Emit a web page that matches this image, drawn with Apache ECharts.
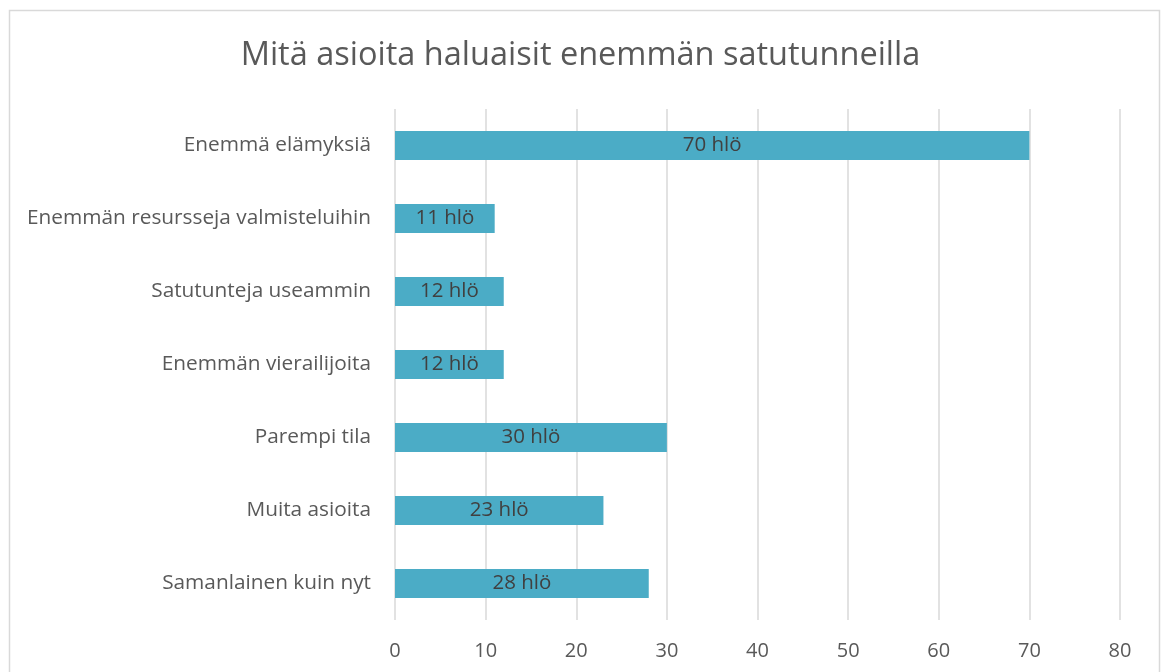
<!DOCTYPE html>
<html><head><meta charset="utf-8">
<script src="https://cdn.jsdelivr.net/npm/echarts@6/dist/echarts.min.js"></script>
<style>html,body{margin:0;padding:0;background:#fff}#c{width:1161px;height:672px}</style>
</head><body><div id="c"></div>
<script>
const categories = ["Enemmä elämyksiä","Enemmän resursseja valmisteluihin","Satutunteja useammin","Enemmän vierailijoita","Parempi tila","Muita asioita","Samanlainen kuin nyt"];
const values = [70, 11, 12, 12, 30, 23, 28];
const xTicks = [0,10,20,30,40,50,60,70,80];
const FONT = "'Open Sans', sans-serif";
const chart = echarts.init(document.getElementById('c'));
chart.setOption({
  animation:false,
  title:{text:"Mitä asioita haluaisit enemmän satutunneilla",left:'center',top:34,
    textStyle:{fontFamily:FONT,fontSize:32.5,fontWeight:'normal',color:'#595959'}},
  graphic:[{type:'rect',shape:{x:9.5,y:10.5,width:1150,height:700},style:{fill:'none',stroke:'#d9d9d9',lineWidth:1.5},silent:true}],
  grid:{left:395,right:41,top:109,bottom:52,containLabel:false},
  xAxis:{type:'value',min:xTicks[0],max:xTicks[xTicks.length-1],interval:10,
    axisLine:{show:false},axisTick:{show:false},
    axisLabel:{fontFamily:FONT,fontSize:20,color:'#595959',margin:21},
    splitLine:{lineStyle:{color:'#d9d9d9',width:1.5}}},
  yAxis:{type:'category',data:categories,inverse:true,
    axisLine:{show:false},axisTick:{show:false},
    axisLabel:{fontFamily:FONT,fontSize:20.8,color:'#595959',margin:24}},
  series:[{type:'bar',data:values,barWidth:29,itemStyle:{color:'#4BACC6'},
    label:{show:true,position:'inside',formatter:p=>p.value+' hlö',fontFamily:FONT,fontSize:20.5,color:'#404040'}}]
});
</script></body></html>
